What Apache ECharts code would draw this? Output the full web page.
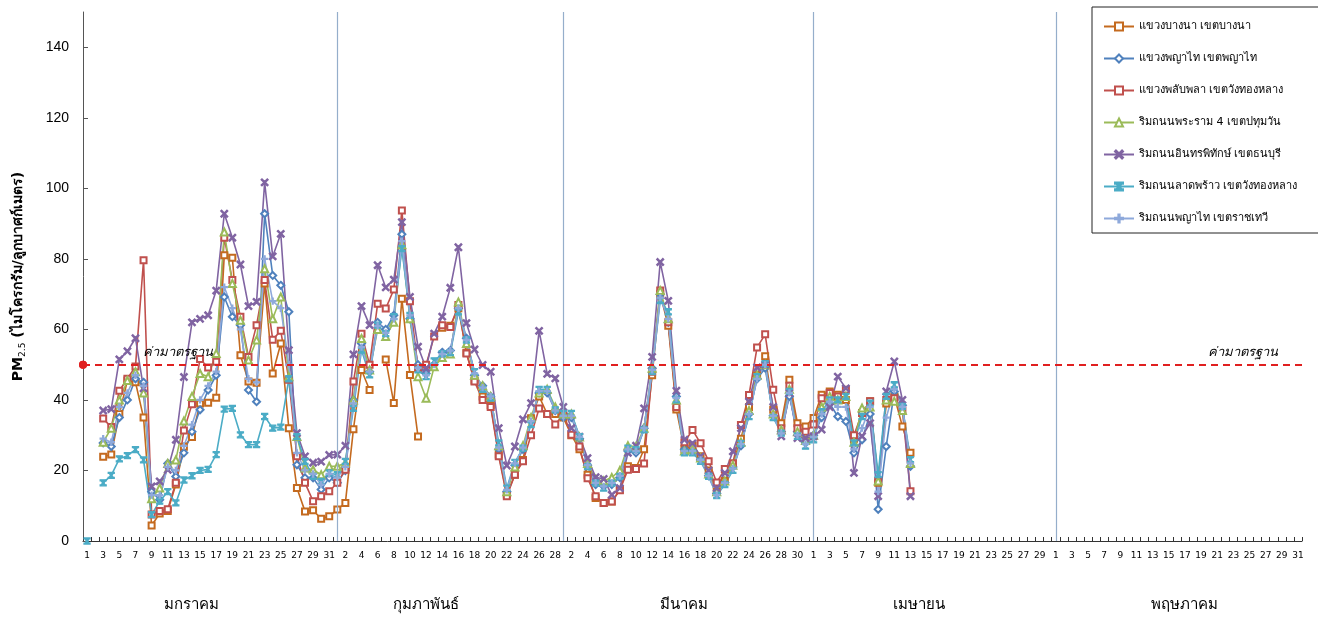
<!DOCTYPE html>
<html><head><meta charset="utf-8">
<script src="https://cdn.jsdelivr.net/npm/echarts@6/dist/echarts.min.js"></script>
<style>html,body{margin:0;padding:0;background:#fff}#c{width:1318px;height:617px}</style>
</head><body><div id="c"></div>
<script>
const monthNames = ['มกราคม', 'กุมภาพันธ์', 'มีนาคม', 'เมษายน', 'พฤษภาคม'];
const monthDays = [31, 28, 31, 30, 31];
const monthLabelDay = [14, 12, 16, 14, 17];
const seriesNames = ['แขวงบางนา เขตบางนา', 'แขวงพญาไท เขตพญาไท', 'แขวงพลับพลา เขตวังทองหลาง', 'ริมถนนพระราม 4 เขตปทุมวัน', 'ริมถนนอินทรพิทักษ์ เขตธนบุรี', 'ริมถนนลาดพร้าว เขตวังทองหลาง', 'ริมถนนพญาไท เขตราชเทวี'];
const standardValue = 50;
const standardLabel = 'ค่ามาตรฐาน';
const yTicks = { min: 0, max: 150, interval: 20 };

const bangna = [null,null,23.9,24.5,36,45.5,45,35,4.4,7.8, 8.5,16,26.7,29.5,39,39.2,40.6,81,80.3,52.7, 45.2,44.9,73,47.5,56,32,15,8.4,8.7,6.3, 7,
 8.9,10.8,31.7,48.5,42.8,null,51.5,39.1,68.7,47.1, 29.6,null,null,60.5,61,66,53.4,45.5,41,38.5, 24.5,13.2,18.8,23,34.8,41,36,36,35,
 30,26,18.8,12.2,10.8,11.2,14.5,21.2,20.7,26, 47,70,61,37.3,26,27,24,20,14,17, 22,29,38,47,52.4,37.2,33.4,45.7,33.4,32.5, 34.9,
 41.5,42.4,41.5,40,29,36.3,39.6,16.5,39,41,32.5,25];
const phayathai = [null,null,27.8,26.8,35,40,46,45,14,11.7, 22,18.3,25,31,37.2,42.8,47,69.2,63.6,61.2, 42.8,39.5,92.8,75.3,72.5,65,21.6,17.9,17.9,14.6, 17.9,
 16.5,20,40,56,48,62,60,64,87,63, 50,47.5,50,53.5,54,66,57.5,47,44,41, 26,14,21.5,26,34,42,42,37,35,
 35,29,21.5,16,15.5,16,18,25.5,25,32, 49,70,62,41,26,25.5,23,18.5,13.5,16.5, 21,27,36,46,49,35.5,31,41,31,28, 30,
 35,39,35.3,33.9,25,28.7,36,9,26.8,42.4,38.5,21.2];
const phlapphla = [null,null,34.7,32.3,42.6,46,49.5,79.6,7.5,8.5, 9,16.5,31.3,38.8,51.6,49.2,50.8,86,74,63.6, 52.2,61.2,74,57.1,59.6,45.7,24,16.5,11.3,12.7, 14.1,
 16.5,20.2,45.2,58.8,50,67.3,65.9,71.3,93.7,68, 49,50,58,61.2,60.7,66.9,53.2,45.2,40,38, 24,12.7,18.8,22.6,30,37.6,36,33,36,
 30.1,26.8,17.8,12.7,10.8,11.2,14.4,20.2,20.4,22, 48,71,62,38,28,31.5,27.7,22.6,16.6,20.4, 22,32.9,41.4,54.9,58.6,42.9,32,44,32,31, 33,
 40.5,42,41,42.9,30,36.3,39.6,17,40,40.5,37,14.1];
const rama4 = [null,null,28,32,40,45.5,48,42,12,15, 22,23,34,41,47.5,46.6,53.2,87.6,73,62.6, 51.3,57,77.2,63,69.2,46.6,29.6,20.7,20.2,18.8, 21.2,
 21.2,22.1,40,57.4,48.5,60,58,62,84,63, 46.6,40.5,49.4,52,53,67.8,56,47,44,41, 27,14,21,27,35,42,43,38,36,
 36,29.5,22,17.5,17,18,20,27,26.8,32, 49,71,63,40,25.5,26,23.5,19,14,17, 21.5,28,37,47,50,36,31.5,43,31,28.5, 30,
 38,41,40,41,28,37.7,38,17,40,39.6,37,22];
const intharaphithak = [null,null,37,37.4,51.5,53.8,57.5,43.3,15.5,16.9, 20.2,28.7,46.5,62,63,64,71,92.8,86,78.4, 66.6,67.8,101.7,80.7,87.1,54.1,30.6,24,22.2,22.5, 24.4,
 24.5,27,52.9,66.6,61.2,78.2,71.9,74.1,90.4,69.2, 55.1,49,58.8,63.6,71.8,83.3,61.8,54.3,49.9,48, 32,21.4,26.8,34.5,39.1,59.6,47.4,46.1,38,
 32,29.6,23.5,18.1,17.6,13.1,15,25,27,37.6, 52.2,79.1,68.1,42.6,28.7,27.7,24,20,15,19.3, 25.4,32,39.5,49.2,50,38,29.7,42,29.2,29.2, 29.7,
 31.6,38,46.6,43.3,19.3,29.7,33.4,12.7,42.4,50.9,40,12.7];
const ladphrao = [0,null,16.5,18.6,23.3,24.2,25.9,23,7.5,11.3, 14,10.8,17.3,18.5,20,20.3,24.5,37.4,37.6,30.1, 27.3,27.3,35.3,32,32.3,46,29.6,22.6,18.3,16.9, 19.3,
 18.8,22.6,37.6,54.1,47.1,61.2,58.8,63.6,82.9,64, 48.5,46.6,51.1,53.1,53.4,65,57,48,43,40.5, 27.8,15,22.3,26.3,33,43,43,37.2,36.2,
 36.2,29.6,21.1,16.4,15,16.4,18.3,26.3,25.9,31.5, 48,68.2,65,40,25,25,22.6,18.3,12.9,16, 20,27.7,35.3,46.6,50.3,35,30.6,42.4,29.7,26.9, 28.7,
 36.7,40,40,41,27.8,35.3,39.1,18.8,41,44.3,38.2,23.1];
const ratchathewi = [null,null,29,28,38,42,47,44,13,13, 21,20,27,33,40,44,48,72,66,60, 46,45,80,68,66,50,25,20,19,16, 19,
 18,21,39,55,48,61,59,63,85,64, 49,47,50,53,54,66,57,47.5,43.5,41, 26.5,14.5,22,26.5,34,42.5,42.5,37,35.5,
 35.5,29.5,21.5,16.5,15.5,16.5,18.5,26,25.5,32, 48.5,69,63,40.5,25.5,25.5,23,18.5,13,16.5, 20.5,27.5,36,46,50,35.5,30.5,42,30,27.5, 29.5,
 36,39.5,38,38,26,32,38,14,35,43,38,22];

const seriesValues = [bangna, phayathai, phlapphla, rama4, intharaphithak, ladphrao, ratchathewi];
const seriesColors = ['#C46A1F', '#4F81BD', '#C0504D', '#9BBB59', '#8064A2', '#4BACC6', '#8EA9DB'];
const crossPath = 'path://M0,1.2L1.2,0L5,3.8L8.8,0L10,1.2L6.2,5L10,8.8L8.8,10L5,6.2L1.2,10L0,8.8L3.8,5Z';
const hourglassPath = 'path://M0,0H10V1.6H8.4L5.9,5L8.4,8.4H10V10H0V8.4H1.6L4.1,5L1.6,1.6H0Z';
const plusPath = 'path://M4.2,0H5.8V4.2H10V5.8H5.8V10H4.2V5.8H0V4.2H4.2Z';
const seriesSymbols = ['emptyRect', 'emptyDiamond', 'emptyRect', 'emptyTriangle', crossPath, hourglassPath, plusPath];
const seriesSymbolSizes = [6, 7, 6, 7, 7, 6, 6];

const categories = [];
monthDays.forEach((n, m) => { for (let d = 1; d <= n; d++) categories.push((m + 1) + '-' + d); });
const monthStarts = monthDays.map((n, m) => (m + 1) + '-1').slice(1);

const FONT = 'Tahoma, "DejaVu Sans", "Noto Sans", sans-serif';
const chart = echarts.init(document.getElementById('c'), null, { renderer: 'canvas' });

const series = seriesNames.map((name, k) => ({
  name, type: 'line', data: seriesValues[k],
  symbol: seriesSymbols[k], symbolSize: seriesSymbolSizes[k],
  showSymbol: true, showAllSymbol: true,
  lineStyle: { width: 1.6, color: seriesColors[k] },
  itemStyle: { color: seriesColors[k], borderColor: seriesColors[k], borderWidth: 1.3 },
  connectNulls: false, animation: false
}));
series[0].markLine = {
  silent: true, symbol: 'none', animation: false,
  lineStyle: { color: '#95AECB', type: 'solid', width: 1.2 },
  label: { show: false },
  data: monthStarts.map(c => ({ xAxis: c }))
};
series[6].markLine = {
  silent: true, symbol: ['circle', 'none'], symbolSize: 8, animation: false,
  lineStyle: { color: '#E02020', type: [7, 5], width: 2 },
  data: [
    { yAxis: standardValue, label: { show: true, position: 'insideStartTop', formatter: standardLabel, fontStyle: 'italic', fontSize: 13, color: '#000', fontFamily: FONT, padding: [0, 0, 0, 54], distance: 6 } },
    { yAxis: standardValue, label: { show: true, position: 'insideEndTop', formatter: standardLabel, fontStyle: 'italic', fontSize: 13, color: '#000', fontFamily: FONT, padding: [0, 18, 0, 0], distance: 6 } }
  ]
};

chart.setOption({
  animation: false,
  backgroundColor: '#fff',
  textStyle: { fontFamily: FONT },
  grid: { left: 83, right: 16, top: 12, bottom: 76, containLabel: false },
  legend: {
    orient: 'vertical', left: 1092, top: 7,
    padding: [14, 60, 9, 11], itemGap: 21, itemWidth: 30, itemHeight: 10,
    backgroundColor: '#fff', borderColor: '#222', borderWidth: 1, borderRadius: 0,
    textStyle: { fontSize: 11, color: '#000', fontFamily: FONT },
    data: seriesNames
  },
  xAxis: {
    type: 'category', data: categories, boundaryGap: true,
    axisLine: { lineStyle: { color: '#333', width: 1 } },
    axisTick: { show: true, inside: true, length: 4, interval: 0, lineStyle: { color: '#333' } },
    axisLabel: { interval: 1, fontSize: 9, color: '#000', margin: 10, formatter: v => v.split('-')[1] },
    splitLine: { show: false }
  },
  yAxis: {
    type: 'value', min: yTicks.min, max: yTicks.max, interval: yTicks.interval,
    name: '{b|PM}{s|2.5}{b| (ไมโครกรัม/ลูกบาศก์เมตร)}',
    nameLocation: 'middle', nameGap: 56, nameRotate: 90,
    nameTextStyle: { rich: {
      b: { fontSize: 14, fontWeight: 'bold', color: '#000', fontFamily: FONT },
      s: { fontSize: 9, fontWeight: 'normal', color: '#000', fontFamily: FONT, padding: [8, 0, 0, 0] }
    } },
    axisLine: { show: true, lineStyle: { color: '#555', width: 1 } },
    axisTick: { show: true, inside: true, length: 5, lineStyle: { color: '#555' } },
    axisLabel: { fontSize: 14, color: '#000', margin: 14, showMaxLabel: false, fontFamily: 'Arial, "Liberation Sans", sans-serif' },
    splitLine: { show: false }
  },
  series
});

const y0 = chart.convertToPixel({ yAxisIndex: 0 }, 0);
const graphics = monthNames.map((name, m) => ({
  type: 'text', silent: true,
  x: chart.convertToPixel({ xAxisIndex: 0 }, (m + 1) + '-' + monthLabelDay[m]),
  y: y0 + 64,
  style: { text: name, fontSize: 15, fill: '#000', fontFamily: FONT, align: 'center', verticalAlign: 'middle' }
}));
chart.setOption({ graphic: graphics });
</script></body></html>
